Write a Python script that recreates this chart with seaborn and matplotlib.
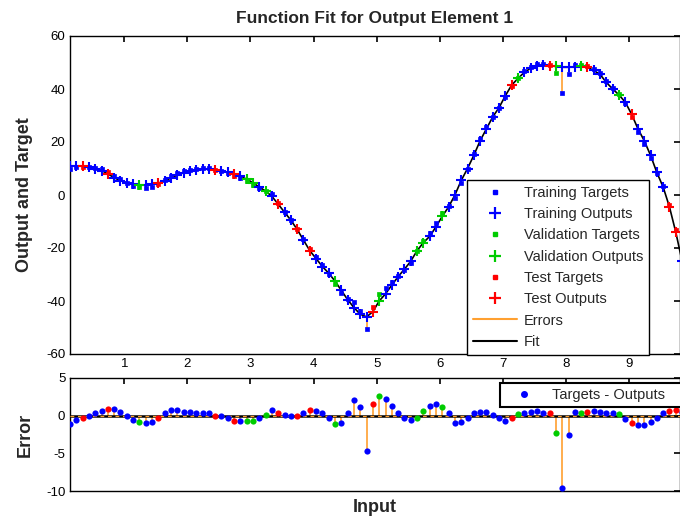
import numpy as np
import pandas as pd
import matplotlib
matplotlib.use("Agg")
import matplotlib.pyplot as plt
from matplotlib.lines import Line2D
import seaborn as sns

# ---------------- data ----------------
INPUTS = [0.14, 0.24, 0.34, 0.44, 0.54, 0.64, 0.74, 0.84, 0.94, 1.04,
          1.14, 1.24, 1.34, 1.44, 1.54, 1.64, 1.74, 1.84, 1.94, 2.04,
          2.14, 2.24, 2.34, 2.44, 2.54, 2.64, 2.74, 2.84, 2.94, 3.04,
          3.14, 3.24, 3.34, 3.44, 3.54, 3.64, 3.74, 3.84, 3.94, 4.04,
          4.14, 4.24, 4.34, 4.44, 4.54, 4.64, 4.74, 4.84, 4.94, 5.04,
          5.14, 5.24, 5.34, 5.44, 5.54, 5.64, 5.74, 5.84, 5.94, 6.04,
          6.14, 6.24, 6.34, 6.44, 6.54, 6.64, 6.74, 6.84, 6.94, 7.04,
          7.14, 7.24, 7.34, 7.44, 7.54, 7.64, 7.74, 7.84, 7.94, 8.04,
          8.14, 8.24, 8.34, 8.44, 8.54, 8.64, 8.74, 8.84, 8.94, 9.04,
          9.14, 9.24, 9.34, 9.44, 9.54, 9.64, 9.74, 9.84]

OUTPUTS = [10.9, 11.0, 10.9, 10.5, 10.0, 9.2, 8.0, 6.5, 5.4, 4.6,
           4.1, 3.8, 3.8, 4.0, 4.5, 5.3, 6.4, 7.5, 8.4, 9.0,
           9.5, 9.8, 9.8, 9.6, 9.1, 8.5, 7.8, 7.0, 6.0, 4.6,
           3.0, 1.5, -0.5, -3.5, -6.5, -9.5, -13.0, -17.0, -21.0, -24.0,
           -27.0, -29.5, -32.5, -36.0, -39.5, -42.5, -45.0, -46.0, -44.0, -40.0,
           -37.3, -34.0, -30.8, -28.0, -25.0, -21.0, -18.0, -15.6, -12.0, -8.0,
           -4.5, 0.0, 5.5, 10.0, 15.0, 20.5, 25.0, 29.5, 33.0, 37.5,
           41.5, 44.0, 46.3, 47.8, 48.8, 49.0, 48.8, 48.5, 48.2, 48.2,
           48.4, 48.8, 48.2, 47.0, 45.5, 42.5, 40.0, 37.8, 35.0, 30.5,
           25.0, 20.5, 15.0, 8.5, 3.0, -4.5, -14.0, -25.0]

ERRORS = [-1.1, -0.55, -0.3, 0.0, 0.3, 0.6, 0.85, 0.85, 0.45, 0.0,
          -0.55, -0.85, -1.0, -0.8, -0.3, 0.3, 0.8, 0.8, 0.55, 0.45,
          0.4, 0.4, 0.3, 0.0, -0.1, -0.3, -0.65, -0.7, -0.65, -0.65,
          -0.35, 0.1, 0.7, 0.35, 0.1, -0.1, 0.0, 0.4, 0.75, 0.65,
          0.4, -0.35, -1.05, -0.95, 0.4, 2.1, 1.15, -4.7, 1.6, 2.65,
          2.2, 1.3, 0.3, -0.35, -0.6, -0.3, 0.65, 1.3, 1.6, 1.1,
          0.3, -1.0, -0.9, -0.3, 0.3, 0.55, 0.55, 0.1, -0.35, -0.65,
          -0.3, 0.2, 0.4, 0.5, 0.6, 0.4, 0.3, -2.35, -9.6, -2.6,
          0.5, 0.4, 0.5, 0.6, 0.5, 0.4, 0.3, 0.2, -0.45, -1.0,
          -1.3, -1.3, -0.9, -0.3, 0.3, 0.6, 0.8, 0.5]

# T = training, V = validation, S = test
SPLIT = list("TTSTTTSTTT" "TVTTSTTTTT" "TTTSTTSTVV" "TVTSTTSTST"
             "TTVTTTTTSV" "TTTTTVVTTV" "TTTTTTTTTT" "SVTTTTSVTT"
             "TVSTTTTVTS" "TTTTTSST")

SUBSETS = ["T", "V", "S"]
SUBSET_NAMES = {"T": "Training", "V": "Validation", "S": "Test"}
SUBSET_COLORS = {"T": "#0000ff", "V": "#00cc00", "S": "#ff0000"}
ERR_COLOR = "#ffa030"

df = pd.DataFrame({"input": INPUTS, "output": OUTPUTS, "error": ERRORS,
                   "split": SPLIT})
df["target"] = df["output"] + df["error"]

# ---------------- figure ----------------
sns.set_theme(style="white")
plt.rcParams["font.family"] = ["Liberation Sans", "DejaVu Sans"]
plt.rcParams["axes.unicode_minus"] = False

W, H = 680, 519
fig = plt.figure(figsize=(W / 100, H / 100), dpi=100)

L = 69.5 / W
ax1 = fig.add_axes([L, 1 - 354 / H, 1 - L, (354 - 36) / H])
ax2 = fig.add_axes([L, 1 - 491 / H, 1 - L, (491 - 378) / H])

XMIN, XMAX = 0.132, 9.807

# ---- top panel ----
ax1.vlines(df["input"], df["output"], df["target"], color=ERR_COLOR,
           linewidth=1.2, zorder=2)
sns.lineplot(data=df, x="input", y="output", color="black", linewidth=1.2,
             ax=ax1, zorder=3, legend=False)
for s in SUBSETS:
    sub = df[df["split"] == s]
    sns.scatterplot(data=sub, x="input", y="target", marker="s", s=9,
                    color=SUBSET_COLORS[s], edgecolor=SUBSET_COLORS[s],
                    linewidth=0.5, ax=ax1, zorder=4, legend=False)
for s in SUBSETS:
    sub = df[df["split"] == s]
    sns.scatterplot(data=sub, x="input", y="output", marker="+", s=60,
                    color=SUBSET_COLORS[s], linewidth=1.5, ax=ax1, zorder=5,
                    legend=False)

ax1.set_xlim(XMIN, XMAX)
ax1.set_ylim(-60, 60)
ax1.set_yticks([-60, -40, -20, 0, 20, 40, 60])
ax1.set_xticks(range(1, 10))
ax1.set_xlabel("")
ax1.set_ylabel("Output and Target", fontsize=13, fontweight="bold")
ax1.yaxis.set_label_coords((25 - 69.5) / 610.5, 0.5)

# ---- bottom panel ----
ax2.vlines(df["input"], 0, df["error"], color=ERR_COLOR, linewidth=1.2,
           zorder=2)
ax2.axhline(0, color="black", linewidth=1.8, zorder=2.5)
ax2.axhline(0, color=ERR_COLOR, linewidth=0.9, linestyle=(0, (3, 3)),
            zorder=2.6)
for s in SUBSETS:
    sub = df[df["split"] == s]
    sns.scatterplot(data=sub, x="input", y="error", marker="o", s=20,
                    color=SUBSET_COLORS[s], edgecolor=SUBSET_COLORS[s],
                    linewidth=0, ax=ax2, zorder=4, legend=False)

ax2.set_xlim(XMIN, XMAX)
ax2.set_ylim(-10, 5)
ax2.set_yticks([-10, -5, 0, 5])
ax2.set_xticks(range(1, 10))
ax2.set_xticklabels([])
ax2.set_xlabel("Input", fontsize=13, fontweight="bold")
ax2.xaxis.set_label_coords(0.5, -(508 - 491) / 113)
ax2.xaxis.label.set_va("center")
ax2.set_ylabel("Error", fontsize=13, fontweight="bold")
ax2.yaxis.set_label_coords((25 - 69.5) / 610.5, 0.5)

for ax in (ax1, ax2):
    ax.yaxis.label.set_va("center")
    for sp in ax.spines.values():
        sp.set_color("black")
        sp.set_linewidth(1.0)
    ax.tick_params(direction="in", top=True, right=True, length=4,
                   width=1.2, color="black", labelsize=9.5, pad=3,
                   labelcolor="black")

fig.text(375 / W, 1 - 18 / H, "Function Fit for Output Element 1",
         ha="center", va="center", fontsize=12.5, fontweight="bold")

# ---- legends ----
handles = []
labels = []
for s in SUBSETS:
    c = SUBSET_COLORS[s]
    handles.append(Line2D([], [], linestyle="none", marker="s", markersize=3,
                          color=c))
    labels.append(f"{SUBSET_NAMES[s]} Targets")
    handles.append(Line2D([], [], linestyle="none", marker="+",
                          markersize=9, markeredgewidth=1.6, color=c))
    labels.append(f"{SUBSET_NAMES[s]} Outputs")
handles.append(Line2D([], [], color=ERR_COLOR, linewidth=1.5))
labels.append("Errors")
handles.append(Line2D([], [], color="black", linewidth=1.5))
labels.append("Fit")

leg1 = ax1.legend(handles, labels, loc="upper left",
                  bbox_to_anchor=(467 / W, 1 - 180 / H),
                  bbox_transform=fig.transFigure, fontsize=10.5,
                  frameon=True, fancybox=False, framealpha=1,
                  edgecolor="black", handlelength=3.0, handletextpad=0.5,
                  labelspacing=0.5, borderpad=0.4, borderaxespad=0)
leg1.get_frame().set_linewidth(1.0)

h2 = [Line2D([], [], linestyle="none", marker="o", markersize=4,
             color=SUBSET_COLORS["T"])]
leg2 = ax2.legend(h2, ["Targets - Outputs"], loc="upper left",
                  bbox_to_anchor=(500 / W, 1 - 383 / H, 200 / W, 0),
                  bbox_transform=fig.transFigure, fontsize=10.5,
                  mode="expand",
                  frameon=True, fancybox=False, framealpha=1,
                  edgecolor="black", handlelength=2.6, handletextpad=0.6,
                  borderpad=0.35, borderaxespad=0)
leg2.get_frame().set_linewidth(1.5)

fig.savefig("out.png", dpi=100)
